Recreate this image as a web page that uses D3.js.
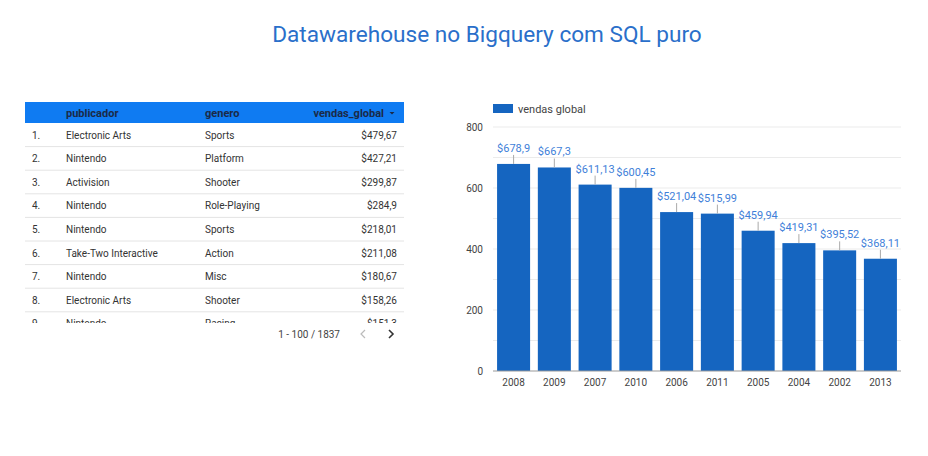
<!DOCTYPE html>
<html><head><meta charset="utf-8">
<script src="https://cdn.jsdelivr.net/npm/d3@7"></script>
<style>body{margin:0;background:#fff;font-family:Roboto,sans-serif}</style>
</head><body><svg id="c" width="928" height="456"></svg>
<script>
const title = "Datawarehouse no Bigquery com SQL puro";
const tableHeaders = ["publicador", "genero", "vendas_global"];
const publishers = ["Electronic Arts","Nintendo","Activision","Nintendo","Nintendo","Take-Two Interactive","Nintendo","Electronic Arts","Nintendo"];
const genres = ["Sports","Platform","Shooter","Role-Playing","Sports","Action","Misc","Shooter","Racing"];
const sales = ["$479,67","$427,21","$299,87","$284,9","$218,01","$211,08","$180,67","$158,26","$151,3"];
const pagination = "1 - 100 / 1837";
const years = ["2008","2009","2007","2010","2006","2011","2005","2004","2002","2013"];
const vendas = [678.9,667.3,611.13,600.45,521.04,515.99,459.94,419.31,395.52,368.11];
const vendasLabels = ["$678,9","$667,3","$611,13","$600,45","$521,04","$515,99","$459,94","$419,31","$395,52","$368,11"];
const yTicks = [0,200,400,600,800];
const yGrid = [100,200,300,400,500,600,700,800];
const legendLabel = "vendas global";

const svg = d3.select("#c");
svg.append("text").attr("x",487).attr("y",42).attr("text-anchor","middle")
  .attr("font-size",22.6).attr("fill","#2a6fca").text(title);

// table
const T = svg.append("g");
const tx0=25, tx1=404, hy=102, hh=21, rh=23.6;
T.append("rect").attr("x",tx0).attr("y",hy).attr("width",tx1-tx0).attr("height",hh).attr("fill","#0f7bf2");
const colX=[66,205];
T.append("text").attr("x",colX[0]).attr("y",hy+14.5).attr("font-size",11).attr("font-weight","bold").attr("fill","#1b2a47").text(tableHeaders[0]);
T.append("text").attr("x",colX[1]).attr("y",hy+14.5).attr("font-size",11).attr("font-weight","bold").attr("fill","#1b2a47").text(tableHeaders[1]);
T.append("text").attr("x",384).attr("y",hy+14.5).attr("text-anchor","end").attr("font-size",11).attr("font-weight","bold").attr("fill","#1b2a47").text(tableHeaders[2]);
T.append("path").attr("d",`M${389.5},${hy+10} l5,0 l-2.5,2.5 z`).attr("fill","#1b2a47");
const clip = svg.append("defs").append("clipPath").attr("id","tc");
clip.append("rect").attr("x",tx0).attr("y",hy+hh).attr("width",tx1-tx0).attr("height",323-(hy+hh));
const rows = T.append("g").attr("clip-path","url(#tc)").selectAll("g").data(publishers).join("g")
  .attr("transform",(d,i)=>`translate(0,${hy+hh+i*rh})`);
rows.append("line").attr("x1",tx0).attr("x2",tx1).attr("y1",rh).attr("y2",rh).attr("stroke","#e4e4e4");
rows.append("text").attr("x",32).attr("y",15.5).attr("font-size",10).attr("fill","#333").text((d,i)=>(i+1)+".");
rows.append("text").attr("x",colX[0]).attr("y",15.5).attr("font-size",10).attr("fill","#333").text(d=>d);
rows.append("text").attr("x",colX[1]).attr("y",15.5).attr("font-size",10).attr("fill","#333").text((d,i)=>genres[i]);
rows.append("text").attr("x",397).attr("y",15.5).attr("text-anchor","end").attr("font-size",10).attr("fill","#333").text((d,i)=>sales[i]);
T.append("text").attr("x",340).attr("y",338).attr("text-anchor","end").attr("font-size",10).attr("fill","#444").text(pagination);
T.append("path").attr("d","M365,330 l-4,4 l4,4").attr("fill","none").attr("stroke","#bbb").attr("stroke-width",1.2);
T.append("path").attr("d","M389,330 l4,4 l-4,4").attr("fill","none").attr("stroke","#333").attr("stroke-width",1.6);

// chart
const x = d3.scaleBand().domain(years).range([493,901]).paddingInner(0.19).paddingOuter(0.1);
const y = d3.scaleLinear().domain([0,800]).range([371,127]);
const C = svg.append("g");
C.selectAll("line.g").data(yGrid).join("line").attr("class","g")
  .attr("x1",493).attr("x2",901).attr("y1",d=>y(d)).attr("y2",d=>y(d)).attr("stroke","#ebebeb");
C.selectAll("text.yt").data(yTicks).join("text").attr("class","yt")
  .attr("x",483).attr("y",d=>y(d)+3.5).attr("text-anchor","end").attr("font-size",10).attr("fill","#444").text(d=>d);
C.selectAll("rect.b").data(vendas).join("rect").attr("class","b")
  .attr("x",(d,i)=>x(years[i])).attr("width",x.bandwidth()).attr("y",d=>y(d)).attr("height",d=>y(0)-y(d)).attr("fill","#1565c0");
C.append("line").attr("x1",493).attr("x2",901).attr("y1",y(0)).attr("y2",y(0)).attr("stroke","#999");
C.selectAll("text.xt").data(years).join("text").attr("class","xt")
  .attr("x",d=>x(d)+x.bandwidth()/2).attr("y",386).attr("text-anchor","middle").attr("font-size",10).attr("fill","#444").text(d=>d);
C.selectAll("line.ld").data(vendas).join("line").attr("class","ld")
  .attr("x1",(d,i)=>x(years[i])+x.bandwidth()/2).attr("x2",(d,i)=>x(years[i])+x.bandwidth()/2)
  .attr("y1",d=>y(d)).attr("y2",d=>y(d)-9).attr("stroke","#aaa");
C.selectAll("text.vl").data(vendas).join("text").attr("class","vl")
  .attr("x",(d,i)=>x(years[i])+x.bandwidth()/2).attr("y",d=>y(d)-12).attr("text-anchor","middle")
  .attr("font-size",11).attr("fill","#3f7fd9").text((d,i)=>vendasLabels[i]);
C.append("rect").attr("x",493).attr("y",104).attr("width",20).attr("height",9).attr("fill","#1565c0");
C.append("text").attr("x",518).attr("y",112.5).attr("font-size",11).attr("fill","#444").text(legendLabel);
</script></body></html>
